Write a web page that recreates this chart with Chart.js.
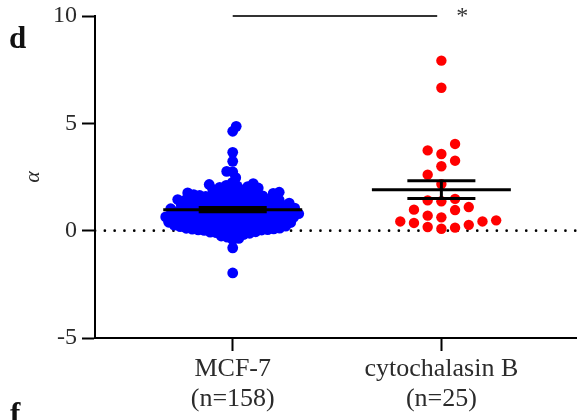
<!DOCTYPE html>
<html>
<head>
<meta charset="utf-8">
<script src="https://cdn.jsdelivr.net/npm/chart.js@4"></script>
<style>
  html, body { margin: 0; padding: 0; background: #fff; }
  #wrap { width: 577px; height: 420px; position: relative; }
</style>
</head>
<body>
<div id="wrap"><canvas id="alpha-graph"></canvas></div>
<script>
var categories = [['MCF-7', '(n=158)'], ['cytochalasin B', '(n=25)']];
var yTicks = [-5, 0, 5, 10];

// alpha per cell
var mcfValues = [
    4.86, 4.63, 3.65, 3.23, 2.76, 2.74, 2.47, 2.24,
    2.19, 2.15, 2.11, 2.08, 2.05, 2.02, 1.99, 1.96, 1.92, 1.89, 1.85, 1.81,
    1.79, 1.78, 1.76, 1.74, 1.72, 1.70, 1.68, 1.66, 1.64, 1.62,
    1.60, 1.59, 1.57, 1.55, 1.53, 1.51, 1.49, 1.47, 1.45, 1.44, 1.42, 1.40,
    1.39, 1.37, 1.36, 1.34, 1.33, 1.31, 1.30, 1.28, 1.27, 1.25,
    1.24, 1.22, 1.21, 1.19, 1.18, 1.16, 1.15, 1.13, 1.12, 1.10,
    1.09, 1.07, 1.06, 1.05, 1.04, 1.03, 1.02, 1.01,
    0.99, 0.98, 0.96, 0.95, 0.94, 0.92, 0.91, 0.89, 0.88, 0.87,
    0.85, 0.84, 0.83, 0.81, 0.80, 0.79, 0.77, 0.76, 0.75, 0.73,
    0.72, 0.71, 0.69, 0.68, 0.67, 0.65, 0.64, 0.63, 0.62, 0.61,
    0.59, 0.58, 0.56, 0.55, 0.54, 0.53, 0.51, 0.50, 0.49, 0.47,
    0.46, 0.45, 0.43, 0.42, 0.41, 0.39, 0.38, 0.37, 0.35, 0.34,
    0.33, 0.31, 0.30, 0.29, 0.27, 0.26, 0.25, 0.23, 0.22, 0.21,
    0.19, 0.18, 0.16, 0.15, 0.14, 0.12, 0.11, 0.10, 0.08, 0.07,
    0.05, 0.04, 0.03, 0.01, -0.01, -0.03, -0.05, -0.07, -0.09, -0.12,
    -0.14, -0.18,
    -0.25, -0.30, -0.36, -0.42, -0.80, -1.97
];
var cytoValues = [
    7.92, 6.66, 4.04, 3.74, 3.57, 3.26, 3.00, 2.61, 2.17, 1.48,
    1.37, 1.41, 1.10, 0.98, 0.96, 0.70, 0.62, 0.48, 0.43, 0.43,
    0.36, 0.27, 0.17, 0.14, 0.09
];
var meanValues = [0.98, 1.91];
var semValues = [0.10, 0.41];

var X_MIN = 0.34, X_MAX = 2.65;
var PX_X = 482 / (X_MAX - X_MIN);
var PX_Y = 322 / 15;

// beeswarm: spread points sideways so they don't pile up
// round = circular collision, otherwise points in the same row band
function swarm(values, center, gapX, gapY, step, round) {
    var order = values.map(function(v, i) { return i; });
    order.sort(function(a, b) { return values[a] - values[b]; });
    var placed = [];
    var out = [];
    var flip = 1;
    function fits(px, py) {
        return placed.every(function(p) {
            var dy = Math.abs(p.y - py);
            if (dy >= gapY) return true;
            var need = round ? Math.sqrt(gapX * gapX - dy * dy) : gapX;
            return Math.abs(p.x - px) >= need - 0.01;
        });
    }
    order.forEach(function(i) {
        var py = values[i] * PX_Y;
        var dx = 0;
        for (var s = 0; s < 800; s++) {
            var tries = s === 0 ? [0] : [s * step * flip, -s * step * flip];
            var found = null;
            for (var t = 0; t < tries.length; t++) {
                if (fits(tries[t], py)) { found = tries[t]; break; }
            }
            if (found !== null) { dx = found; break; }
        }
        if (dx !== 0) flip = -flip;
        placed.push({x: dx, y: py});
        out[i] = {x: center + dx / PX_X, y: values[i]};
    });
    return out;
}

function meanBars(c, mean, sem) {
    return [
        [{x: c - 0.333, y: mean}, {x: c + 0.333, y: mean}],
        [{x: c - 0.163, y: mean + sem}, {x: c + 0.163, y: mean + sem}],
        [{x: c - 0.163, y: mean - sem}, {x: c + 0.163, y: mean - sem}],
        [{x: c, y: mean - sem}, {x: c, y: mean + sem}]
    ];
}

var serif = '"Liberation Serif", "Times New Roman", serif';

var datasets = [
    {
        data: [{x: X_MIN, y: 0}, {x: X_MAX, y: 0}],
        showLine: true, pointRadius: 0, borderColor: '#000', borderWidth: 2.6,
        borderDash: [0.1, 9.7], borderCapStyle: 'round', order: 5
    },
    {
        data: swarm(mcfValues, 1, 6, 6, 0.5, true),
        backgroundColor: '#0000ff', borderWidth: 0, pointRadius: 5.4, order: 3
    },
    {
        data: swarm(cytoValues, 2, 13.7, 11, 6.85, false),
        backgroundColor: '#ff0000', borderWidth: 0, pointRadius: 5.2, order: 3
    }
];
meanValues.forEach(function(m, g) {
    meanBars(g + 1, m, semValues[g]).forEach(function(seg) {
        datasets.push({
            data: seg, showLine: true, pointRadius: 0,
            borderColor: '#000', borderWidth: 3, borderCapStyle: 'butt', order: 0
        });
    });
});

var extras = {
    id: 'extras',
    afterDraw: function(chart) {
        var ctx = chart.ctx;
        var xs = chart.scales.x, ys = chart.scales.y;
        var yTop = ys.getPixelForValue(10);
        ctx.save();
        ctx.strokeStyle = '#333';
        ctx.lineWidth = 2;
        ctx.beginPath();
        ctx.moveTo(xs.getPixelForValue(1), yTop);
        ctx.lineTo(xs.getPixelForValue(1.98), yTop);
        ctx.stroke();
        ctx.fillStyle = '#333';
        ctx.font = '24px ' + serif;
        ctx.textAlign = 'center';
        ctx.textBaseline = 'middle';
        ctx.fillText('*', xs.getPixelForValue(2.1), yTop + 1);
        ctx.fillStyle = '#111';
        ctx.font = 'bold 31px ' + serif;
        ctx.textAlign = 'left';
        ctx.textBaseline = 'alphabetic';
        ctx.fillText('d', 9, 48);
        ctx.fillText('f', 10, 424);
        ctx.restore();
    }
};

var ctxScatter = document.getElementById('alpha-graph').getContext('2d');
var alphaChart = new Chart(ctxScatter, {
    type: 'scatter',
    data: { datasets: datasets },
    plugins: [extras],
    options: {
        responsive: true,
        maintainAspectRatio: false,
        animation: false,
        layout: {
            autoPadding: false,
            padding: { top: 16, left: 0, right: 0, bottom: 0 }
        },
        plugins: {
            legend: { display: false },
            tooltip: { enabled: false }
        },
        scales: {
            x: {
                type: 'linear',
                min: X_MIN,
                max: X_MAX,
                afterBuildTicks: function(scale) {
                    scale.ticks = [{value: 1}, {value: 2}];
                },
                afterFit: function(scale) {
                    scale.height = 82;
                    scale.paddingLeft = 0;
                    scale.paddingRight = 0;
                },
                grid: {
                    drawOnChartArea: false, tickLength: 13,
                    tickColor: '#000', tickWidth: 2
                },
                border: { display: true, color: '#000', width: 2 },
                ticks: {
                    padding: 4,
                    color: '#2b2b2b',
                    maxRotation: 0,
                    font: { family: serif, size: 26, lineHeight: 1.12 },
                    callback: function(v) { return categories[v - 1]; }
                }
            },
            y: {
                min: -5,
                max: 10,
                afterBuildTicks: function(scale) {
                    scale.ticks = yTicks.map(function(v) { return {value: v}; });
                },
                afterFit: function(scale) {
                    scale.width = 95;
                    scale.paddingTop = 0;
                    scale.paddingBottom = 0;
                },
                grid: {
                    drawOnChartArea: false, tickLength: 13,
                    tickColor: '#000', tickWidth: 2
                },
                border: { display: true, color: '#000', width: 2 },
                ticks: {
                    padding: 5,
                    color: '#2b2b2b',
                    font: { family: serif, size: 24 }
                },
                title: {
                    display: true,
                    text: 'α',
                    color: '#2b2b2b',
                    padding: { top: 20, bottom: 0 },
                    font: { family: serif, size: 22, style: 'italic' }
                }
            }
        }
    }
});
</script>
</body>
</html>
